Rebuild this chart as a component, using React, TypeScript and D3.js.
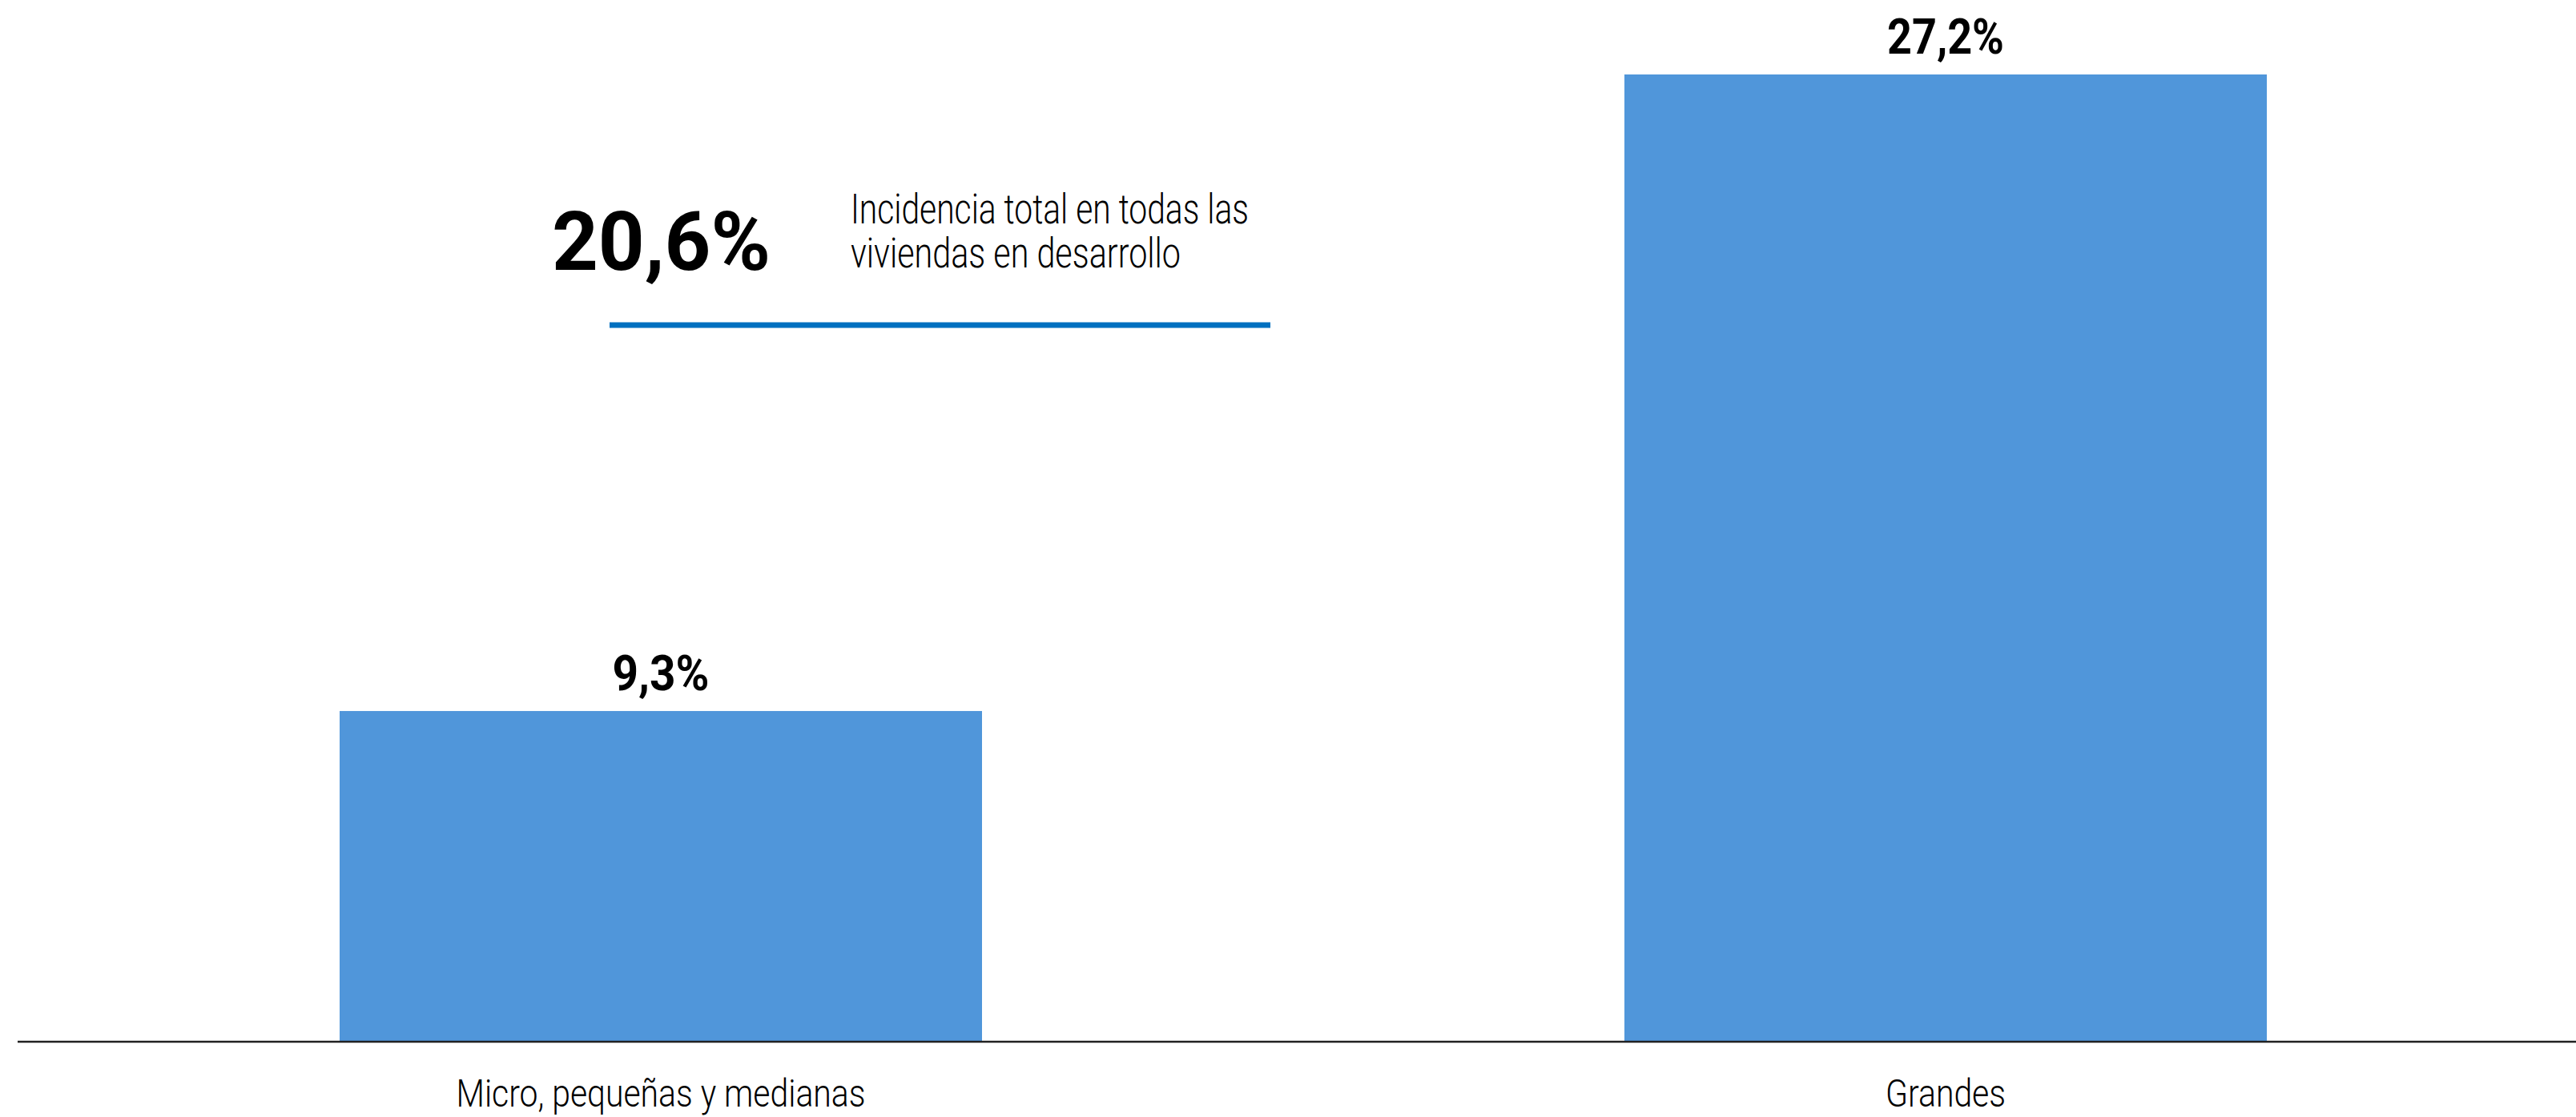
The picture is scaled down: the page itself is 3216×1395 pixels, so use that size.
import React from "react";
import * as d3 from "d3";

const categories = ["Micro, pequeñas y medianas", "Grandes"];
const values = [9.3, 27.2];
const valueLabels = ["9,3%", "27,2%"];
const valueLabelWidths = [121, 146];
const categoryLabelWidths = [511, 150];
const totalLabel = "20,6%";
const totalDescription = ["Incidencia total en todas las", "viviendas en desarrollo"];
const descriptionWidths = [497, 412];

const W = 3216;
const H = 1395;

export default function App() {
  const x = d3
    .scaleBand<string>()
    .domain(categories)
    .range([23, 3231])
    .paddingInner(0.5)
    .paddingOuter(0.25);
  const y = d3.scaleLinear().domain([0, 27.2]).range([1301, 93]);

  const condensed = "Roboto, 'Liberation Sans', sans-serif";

  return (
    <svg
      width={W}
      height={H}
      style={{ position: "absolute", left: 0, top: 0, background: "#fff" }}
    >
      {categories.map((c, i) => (
        <g key={c}>
          <rect
            x={x(c)}
            y={y(values[i])}
            width={x.bandwidth()}
            height={y(0) - y(values[i])}
            fill="#5096DA"
          />
          <text
            x={(x(c) as number) + x.bandwidth() / 2}
            y={y(values[i]) - 26}
            textAnchor="middle"
            fontFamily={condensed}
            fontWeight={700}
            fontSize={61}
            fill="#000"
            textLength={valueLabelWidths[i]}
            lengthAdjust="spacingAndGlyphs"
          >
            {valueLabels[i]}
          </text>
          <text
            x={(x(c) as number) + x.bandwidth() / 2}
            y={1382}
            textAnchor="middle"
            fontFamily={condensed}
            fontWeight={300}
            fontSize={48}
            fill="#000"
            textLength={categoryLabelWidths[i]}
            lengthAdjust="spacingAndGlyphs"
          >
            {c}
          </text>
        </g>
      ))}
      <line x1={22} x2={W} y1={1301} y2={1301} stroke="#222" strokeWidth={2.5} />

      <text
        x={689}
        y={337}
        fontFamily={condensed}
        fontWeight={700}
        fontSize={102}
        fill="#000"
        textLength={273}
        lengthAdjust="spacingAndGlyphs"
      >
        {totalLabel}
      </text>
      {totalDescription.map((t, i) => (
        <text
          key={t}
          x={1062}
          y={279 + i * 55}
          fontFamily={condensed}
          fontWeight={300}
          fontSize={51}
          fill="#000"
          textLength={descriptionWidths[i]}
          lengthAdjust="spacingAndGlyphs"
        >
          {t}
        </text>
      ))}
      <line x1={761} x2={1586} y1={406} y2={406} stroke="#0070C0" strokeWidth={7} />
    </svg>
  );
}
